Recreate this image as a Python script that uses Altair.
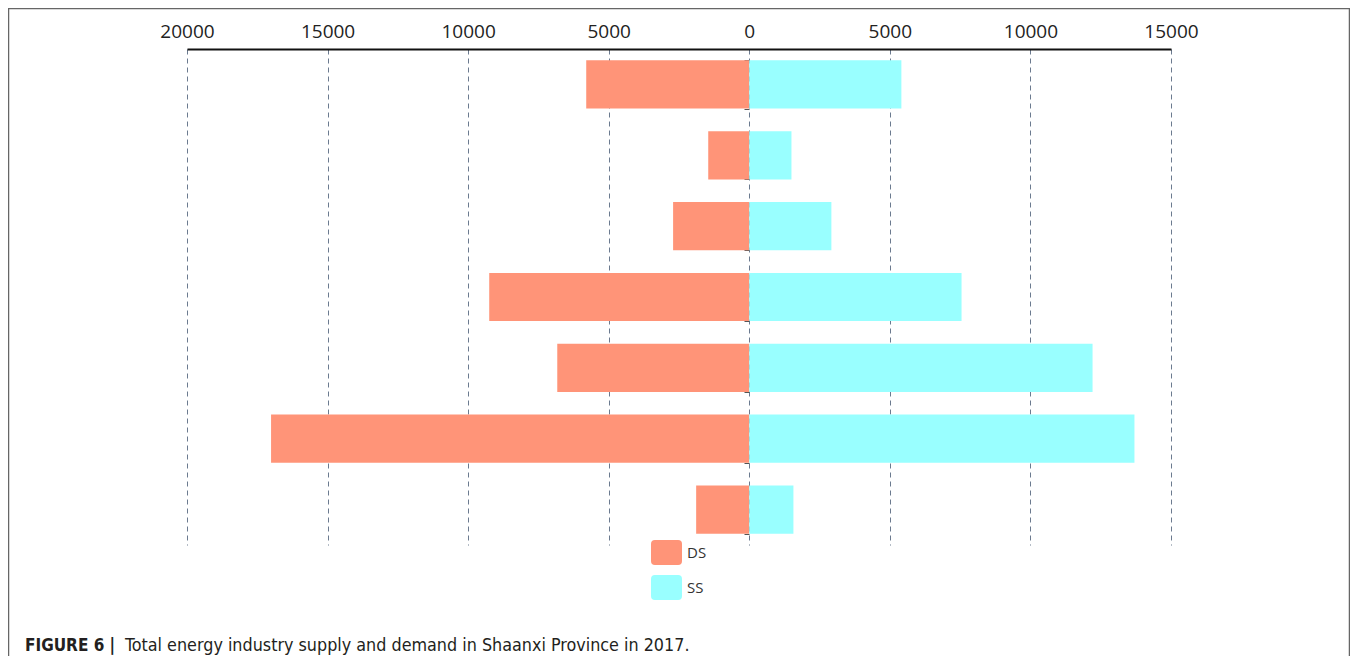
import altair as alt
import pandas as pd

categories = ["1", "2", "3", "4", "5", "6", "7"]
ds_values = [5800, 1460, 2710, 9250, 6830, 17010, 1890]
ss_values = [5410, 1500, 2920, 7550, 12210, 13700, 1570]
series_names = ["DS", "SS"]
series_colors = ["#FF9478", "#99FFFF"]
tick_values = [-20000, -15000, -10000, -5000, 0, 5000, 10000, 15000]

rows = []
for c, d, s in zip(categories, ds_values, ss_values):
    rows.append({"cat": c, "series": "DS", "value": -d})
    rows.append({"cat": c, "series": "SS", "value": s})
df = pd.DataFrame(rows)

rounded = ("M-0.75,-0.8 L0.75,-0.8 Q1,-0.8 1,-0.55 L1,0.55 Q1,0.8 0.75,0.8 "
           "L-0.75,0.8 Q-1,0.8 -1,0.55 L-1,-0.55 Q-1,-0.8 -0.75,-0.8 Z")

bars = alt.Chart(df).mark_bar(cornerRadius=0).encode(
    x=alt.X("value:Q",
            scale=alt.Scale(domain=[-20000, 15000], nice=False, zero=False),
            axis=alt.Axis(orient="top", values=tick_values,
                          labelExpr="format(abs(datum.value), 'd')",
                          title=None, ticks=False, labelPadding=8,
                          labelFlush=False, labelOverlap=False,
                          labelFont="Open Sans", labelFontSize=19,
                          labelColor="#222", domainColor="#111",
                          domainWidth=2, grid=True, gridDash=[5, 4],
                          gridColor="#6b7a8f", gridWidth=1)),
    y=alt.Y("cat:N", sort=categories,
            scale=alt.Scale(paddingInner=0.32, paddingOuter=0.16),
            axis=alt.Axis(orient="left", offset=-562, labels=False,
                          domain=False, ticks=True, tickBand="extent",
                          tickSize=5, tickColor="#555", title=None,
                          grid=False)),
    color=alt.Color("series:N",
                    scale=alt.Scale(domain=series_names, range=series_colors),
                    legend=alt.Legend(orient="none", legendX=464, legendY=488,
                                      title=None, symbolType=rounded,
                                      symbolSize=961, symbolOpacity=1,
                                      symbolStrokeWidth=0, padding=0,
                                      labelFont="Open Sans", labelFontSize=15,
                                      labelColor="#333", labelOffset=5,
                                      rowPadding=7)),
)

frame = alt.Chart(pd.DataFrame({"a": [0]})).mark_rect(
    fill="transparent", stroke="#666", strokeWidth=1.5, clip=False
).encode(x=alt.value(-178.5), x2=alt.value(1162.5),
         y=alt.value(-40.5), y2=alt.value(720))

cap1 = alt.Chart(pd.DataFrame({"t": ["FIGURE 6 |"]})).mark_text(
    align="left", baseline="alphabetic", font="DejaVu Sans Condensed",
    fontSize=17, fontWeight="bold", color="#231F20"
).encode(x=alt.value(-162), y=alt.value(602), text="t:N")

cap2 = alt.Chart(pd.DataFrame({"t": ["Total energy industry supply and demand in Shaanxi Province in 2017."]})).mark_text(
    align="left", baseline="alphabetic", font="DejaVu Sans Condensed",
    fontSize=17.8, color="#231F20"
).encode(x=alt.value(-62), y=alt.value(602), text="t:N")

chart = alt.layer(bars, frame, cap1, cap2).properties(
    width=984, height=496,
    autosize=alt.AutoSizeParams(type="none"),
    padding={"left": 179, "top": 41, "right": 179, "bottom": 111},
).configure_view(stroke=None)

chart.save("out.html", embed_options={"renderer": "svg", "actions": False})
